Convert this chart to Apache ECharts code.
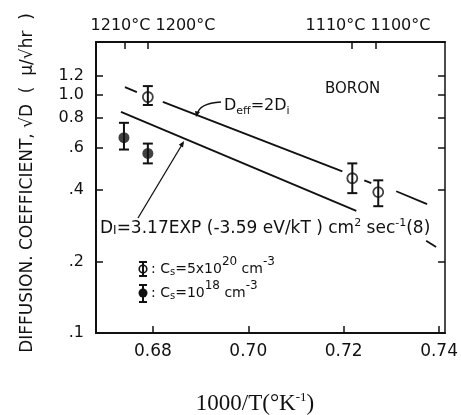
<!DOCTYPE html>
<html>
<head>
<meta charset="utf-8">
<script src="https://cdn.jsdelivr.net/npm/echarts@6/dist/echarts.min.js"></script>
<style>
  html, body { margin: 0; padding: 0; background: #fff; }
  #chart { width: 461px; height: 415px; }
</style>
</head>
<body>
<div id="chart"></div>
<script>
// measured points, Cs = 5x10^20 cm^-3 (open)
const openX = [0.67895, 0.72181, 0.72725];
const openY = [0.981, 0.447, 0.391];
const openLow = [0.908, 0.387, 0.341];
const openHigh = [1.090, 0.516, 0.438];

// measured points, Cs = 10^18 cm^-3 (filled)
const filledX = [0.67394, 0.67895];
const filledY = [0.662, 0.568];
const filledLow = [0.590, 0.516];
const filledHigh = [0.764, 0.625];

// drawn lines, pieces as [x1, y1, x2, y2]
const deffSegments = [
  [0.67415, 1.080, 0.67665, 1.029],
  [0.68209, 0.935, 0.71972, 0.478],
  [0.72432, 0.438, 0.72579, 0.426],
  [0.73101, 0.394, 0.73749, 0.348]
];
const diSegments = [
  [0.67331, 0.850, 0.72265, 0.326],
  [0.73729, 0.244, 0.73938, 0.230]
];

const xTicks = [0.68, 0.70, 0.72, 0.74];
const xTickLabels = ['0.68', '0.70', '0.72', '0.74'];
const yTicks = [0.1, 0.2, 0.4, 0.6, 0.8, 1.0, 1.2];
const yTickLabels = ['.1', '.2', '.4', '.6', '0.8', '1.0', '1.2'];
const tempTicks = [0.6741, 0.6790, 0.7216, 0.7268];
const tempLabels = ['1210°C 1200°C', '1110°C 1100°C'];

const lg = v => Math.log10(v);
const font = 'DejaVu Sans';
const black = '#111';

const chart = echarts.init(document.getElementById('chart'));

function errorBar(params, api) {
  const x = api.value(0);
  const lo = api.coord([x, api.value(1)]);
  const hi = api.coord([x, api.value(2)]);
  const w = 5;
  const style = { stroke: black, lineWidth: 2 };
  return {
    type: 'group',
    children: [
      { type: 'line', shape: { x1: lo[0], y1: lo[1], x2: hi[0], y2: hi[1] }, style },
      { type: 'line', shape: { x1: lo[0] - w, y1: lo[1], x2: lo[0] + w, y2: lo[1] }, style },
      { type: 'line', shape: { x1: hi[0] - w, y1: hi[1], x2: hi[0] + w, y2: hi[1] }, style }
    ]
  };
}

function yLabel(v) {
  let best = 0;
  yTicks.forEach((t, i) => {
    if (Math.abs(lg(t) - v) < Math.abs(lg(yTicks[best]) - v)) best = i;
  });
  return yTickLabels[best];
}

const lineSeries = (segs) => segs.map(s => ({
  type: 'line',
  xAxisIndex: 0,
  yAxisIndex: 0,
  data: [[s[0], lg(s[1])], [s[2], lg(s[3])]],
  symbol: 'none',
  lineStyle: { color: black, width: 1.8 },
  silent: true
}));

const axisLine = { onZero: false, lineStyle: { color: black, width: 2 } };
const tickStyle = { color: black, width: 1.5 };

const option = {
  animation: false,
  backgroundColor: '#fff',
  grid: { left: 96, right: 15, top: 42, bottom: 82 },
  xAxis: [
    {
      type: 'value',
      min: 0.66808,
      max: 0.74125,
      position: 'bottom',
      axisLine,
      splitLine: { show: false },
      axisTick: { inside: true, length: 7, customValues: xTicks, lineStyle: tickStyle },
      axisLabel: {
        customValues: xTicks,
        formatter: v => xTickLabels[xTicks.findIndex(t => Math.abs(t - v) < 1e-6)],
        color: black, fontFamily: font, fontSize: 17, margin: 10
      }
    },
    {
      type: 'value',
      min: 0.66808,
      max: 0.74125,
      position: 'top',
      axisLine,
      splitLine: { show: false },
      axisTick: { inside: true, length: 7, customValues: tempTicks, lineStyle: tickStyle },
      axisLabel: { show: false }
    }
  ],
  yAxis: [
    {
      type: 'value',
      min: lg(0.1),
      max: 0.2227,
      position: 'left',
      axisLine,
      splitLine: { show: false },
      axisTick: { inside: true, length: 7, customValues: yTicks.map(lg), lineStyle: tickStyle },
      axisLabel: {
        customValues: yTicks.map(lg),
        formatter: yLabel,
        color: black, fontFamily: font, fontSize: 16, margin: 12
      }
    },
    {
      type: 'value',
      min: lg(0.1),
      max: 0.2227,
      position: 'right',
      axisLine: { onZero: false, lineStyle: { color: black, width: 1.5 } },
      splitLine: { show: false },
      axisTick: { inside: true, length: 7, customValues: yTicks.map(lg), lineStyle: tickStyle },
      axisLabel: { show: false }
    }
  ],
  series: [
    ...lineSeries(deffSegments),
    ...lineSeries(diSegments),
    {
      type: 'custom',
      renderItem: errorBar,
      data: openX.map((x, i) => [x, lg(openLow[i]), lg(openHigh[i])]),
      z: 3
    },
    {
      type: 'custom',
      renderItem: errorBar,
      data: filledX.map((x, i) => [x, lg(filledLow[i]), lg(filledHigh[i])]),
      z: 3
    },
    {
      type: 'scatter',
      data: openX.map((x, i) => [x, lg(openY[i])]),
      symbol: 'circle',
      symbolSize: 10,
      itemStyle: { color: 'rgba(0,0,0,0)', borderColor: black, borderWidth: 1.8 },
      z: 4
    },
    {
      type: 'scatter',
      data: filledX.map((x, i) => [x, lg(filledY[i])]),
      symbol: 'circle',
      symbolSize: 11,
      itemStyle: { color: black },
      z: 4
    }
  ],
  graphic: [
    // temperature labels along the top
    { type: 'text', x: 153, y: 26, style: { text: tempLabels[0], font: '16px ' + font, fill: black, align: 'center', verticalAlign: 'middle' } },
    { type: 'text', x: 368, y: 26, style: { text: tempLabels[1], font: '16px ' + font, fill: black, align: 'center', verticalAlign: 'middle' } },
    // axis titles
    {
      type: 'text', x: 28, y: 183, rotation: Math.PI / 2,
      style: { text: 'DIFFUSION. COEFFICIENT, √D  (  μ/√hr  )', font: '17px ' + font, fill: black, align: 'center', verticalAlign: 'middle' }
    },
    {
      type: 'text', x: 255, y: 404,
      style: {
        text: '{a|1000/T(°K}{s|-1}{a|)}',
        align: 'center', verticalAlign: 'middle',
        rich: {
          a: { fontFamily: 'Liberation Serif', fontSize: 23, fill: black },
          s: { fontFamily: 'Liberation Serif', fontSize: 13, fill: black, padding: [0, 0, 12, 0] }
        }
      }
    },
    { type: 'text', x: 325, y: 89, style: { text: 'BORON', font: '15px ' + font, fill: black, verticalAlign: 'middle' } },
    // D_eff label with leader
    {
      type: 'text', x: 224, y: 106,
      style: {
        text: '{a|D}{b|eff}{a|=2D}{b|i}',
        verticalAlign: 'middle',
        rich: {
          a: { fontFamily: font, fontSize: 16, fill: black },
          b: { fontFamily: font, fontSize: 11, fill: black, padding: [10, 0, 0, 0] }
        }
      }
    },
    { type: 'bezierCurve', shape: { x1: 197, y1: 115, x2: 221, y2: 102, cpx1: 199, cpy1: 103 }, style: { stroke: black, lineWidth: 1.3, fill: null } },
    { type: 'polygon', shape: { points: [[196, 117], [195, 111], [200, 112]] }, style: { fill: black } },
    // D_I label with arrow
    {
      type: 'text', x: 100, y: 229,
      style: {
        text: '{a|D}{b|I}{a|=3.17EXP (-3.59 eV/kT ) cm}{c|2}{a| sec}{c|-1}{a|(8)}',
        verticalAlign: 'middle',
        rich: {
          a: { fontFamily: font, fontSize: 17, fill: black },
          b: { fontFamily: font, fontSize: 12, fill: black, padding: [4, 0, 0, 0] },
          c: { fontFamily: font, fontSize: 11, fill: black, padding: [0, 0, 11, 0] }
        }
      }
    },
    { type: 'line', shape: { x1: 138, y1: 218, x2: 183, y2: 143 }, style: { stroke: black, lineWidth: 1.3 } },
    { type: 'polygon', shape: { points: [[184, 141], [183.0, 147.4], [178.8, 144.8]] }, style: { fill: black } },
    // legend
    { type: 'line', shape: { x1: 143, y1: 262, x2: 143, y2: 276 }, style: { stroke: black, lineWidth: 2 } },
    { type: 'line', shape: { x1: 139, y1: 262, x2: 147, y2: 262 }, style: { stroke: black, lineWidth: 2 } },
    { type: 'line', shape: { x1: 139, y1: 276, x2: 147, y2: 276 }, style: { stroke: black, lineWidth: 2 } },
    { type: 'circle', shape: { cx: 143, cy: 269, r: 3.8 }, style: { stroke: black, lineWidth: 1.6, fill: 'rgba(0,0,0,0)' } },
    { type: 'line', shape: { x1: 143, y1: 285, x2: 143, y2: 302 }, style: { stroke: black, lineWidth: 2 } },
    { type: 'line', shape: { x1: 139, y1: 285, x2: 147, y2: 285 }, style: { stroke: black, lineWidth: 2 } },
    { type: 'line', shape: { x1: 139, y1: 302, x2: 147, y2: 302 }, style: { stroke: black, lineWidth: 2 } },
    { type: 'circle', shape: { cx: 143, cy: 293, r: 4.5 }, style: { fill: black } },
    {
      type: 'text', x: 151, y: 269,
      style: {
        text: '{a|: C}{b|s}{a|=5x10}{c|20}{a| cm}{c|-3}',
        verticalAlign: 'middle',
        rich: {
          a: { fontFamily: font, fontSize: 14, fill: black },
          b: { fontFamily: font, fontSize: 10, fill: black, padding: [6, 0, 0, 0] },
          c: { fontFamily: font, fontSize: 12, fill: black, padding: [0, 0, 14, 0] }
        }
      }
    },
    {
      type: 'text', x: 151, y: 293,
      style: {
        text: '{a|: C}{b|s}{a|=10}{c|18}{a| cm}{c|-3}',
        verticalAlign: 'middle',
        rich: {
          a: { fontFamily: font, fontSize: 14, fill: black },
          b: { fontFamily: font, fontSize: 10, fill: black, padding: [6, 0, 0, 0] },
          c: { fontFamily: font, fontSize: 12, fill: black, padding: [0, 0, 14, 0] }
        }
      }
    }
  ]
};

chart.setOption(option);
</script>
</body>
</html>
